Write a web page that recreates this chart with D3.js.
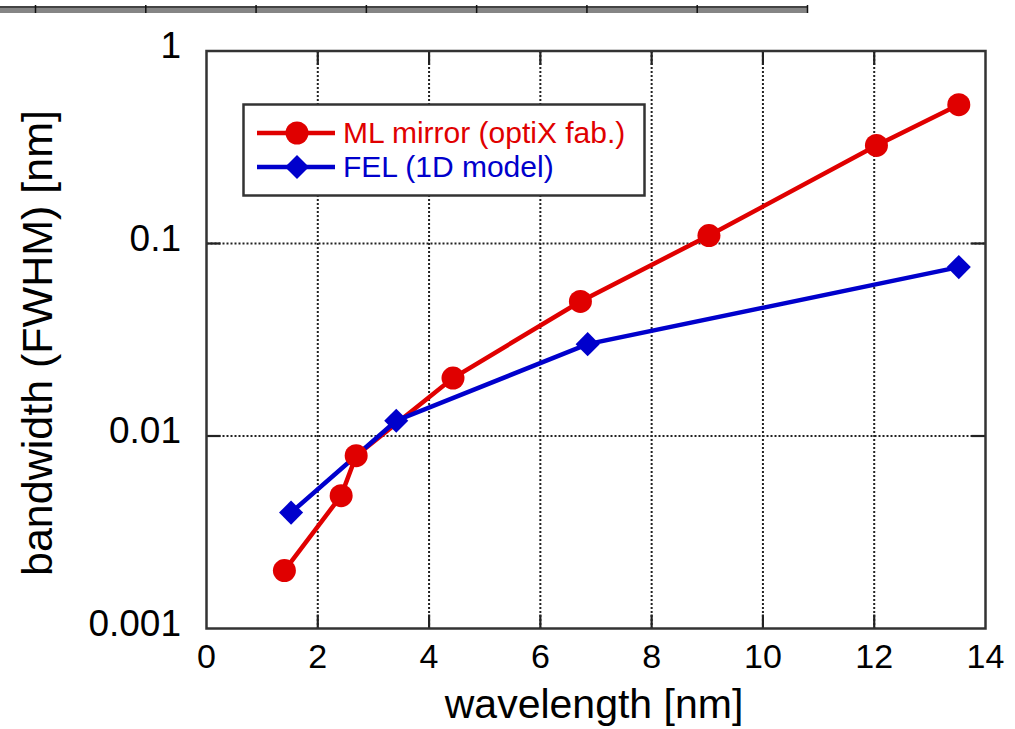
<!DOCTYPE html>
<html>
<head>
<meta charset="utf-8">
<script src="https://cdnjs.cloudflare.com/ajax/libs/d3/7.8.5/d3.min.js"></script>
<style>
  body { margin: 0; background: #fff; }
  svg { display: block; font-family: "Liberation Sans", Arial, sans-serif; }
</style>
</head>
<body>
<div id="chart"></div>
<script>
var w = 1015;
var h = 729;

// data
var mirrorX = [1.4, 2.42, 2.69, 4.43, 6.72, 9.03, 12.04, 13.52];
var mirrorY = [0.002, 0.0049, 0.0079, 0.02, 0.05, 0.11, 0.323, 0.526];
var felX = [1.52, 3.41, 6.85, 13.52];
var felY = [0.004, 0.012, 0.030, 0.0754];
var xTicks = [0, 2, 4, 6, 8, 10, 12, 14];
var yTicks = [0.001, 0.01, 0.1, 1];
var yTickLabels = ["0.001", "0.01", "0.1", "1"];
var rulerTicks = [0, 1, 2, 3, 4, 5, 6, 7];

// plot box (note: "top" is a reserved window prop, so use other names)
var pL = 206.5, pR = 985.5, pT = 51, pB = 628.5;

var x = d3.scaleLinear().domain([0, 14]).range([pL, pR]);
var y = d3.scaleLog().domain([0.001, 1]).range([pB, pT]);

var svg = d3.select("#chart").append("svg")
    .attr("width", w)
    .attr("height", h);

// ruler strip at the top edge of the page
var ruler = d3.scaleLinear().domain([0, 7]).range([35.5, 807.5]);
svg.append("rect").attr("x", 0).attr("y", 6).attr("width", 808).attr("height", 7).attr("fill", "#858585");
svg.append("line").attr("x1", 0).attr("x2", 808).attr("y1", 7).attr("y2", 7).attr("stroke", "#444").attr("stroke-width", 2);
svg.selectAll(".rtick").data(rulerTicks).enter().append("line")
    .attr("x1", d => ruler(d)).attr("x2", d => ruler(d))
    .attr("y1", 5).attr("y2", 13)
    .attr("stroke", "#111").attr("stroke-width", 1.5);

// dotted grid
var grid = svg.append("g").attr("stroke", "#222").attr("stroke-width", 2).attr("stroke-dasharray", "2,2");
grid.selectAll(".gx").data(xTicks.slice(1, -1)).enter().append("line")
    .attr("x1", d => x(d)).attr("x2", d => x(d))
    .attr("y1", pT).attr("y2", pB);
grid.selectAll(".gy").data(yTicks.slice(1, -1)).enter().append("line")
    .attr("x1", pL).attr("x2", pR)
    .attr("y1", d => y(d)).attr("y2", d => y(d));

// inward ticks on all four sides
var tlen = 14;
var ticks = svg.append("g").attr("stroke", "#222").attr("stroke-width", 2.2);
xTicks.slice(1, -1).forEach(function (d) {
    ticks.append("line").attr("x1", x(d)).attr("x2", x(d)).attr("y1", pB).attr("y2", pB - tlen);
    ticks.append("line").attr("x1", x(d)).attr("x2", x(d)).attr("y1", pT).attr("y2", pT + tlen);
});
yTicks.slice(1, -1).forEach(function (d) {
    ticks.append("line").attr("x1", pL).attr("x2", pL + tlen).attr("y1", y(d)).attr("y2", y(d));
    ticks.append("line").attr("x1", pR).attr("x2", pR - tlen).attr("y1", y(d)).attr("y2", y(d));
});

// frame
svg.append("rect")
    .attr("x", pL).attr("y", pT)
    .attr("width", pR - pL).attr("height", pB - pT)
    .attr("fill", "none").attr("stroke", "#333").attr("stroke-width", 2.5);

// tick labels
svg.selectAll(".xl").data(xTicks).enter().append("text")
    .attr("x", d => x(d)).attr("y", 668)
    .attr("text-anchor", "middle")
    .attr("font-size", 34)
    .text(d => d);

svg.selectAll(".yl").data(yTicks).enter().append("text")
    .attr("x", 181).attr("y", d => y(d) + 7)
    .attr("text-anchor", "end")
    .attr("font-size", 37)
    .text((d, i) => yTickLabels[i]);

// axis titles
svg.append("text")
    .attr("x", 594).attr("y", 718)
    .attr("text-anchor", "middle")
    .attr("font-size", 41)
    .text("wavelength [nm]");

svg.append("text")
    .attr("transform", "translate(52,343) rotate(-90)")
    .attr("text-anchor", "middle")
    .attr("font-size", 43)
    .text("bandwidth (FWHM) [nm]");

// series
var red = "#e00000", blue = "#0000cc";
var line = d3.line().x(d => x(d[0])).y(d => y(d[1]));
var mirror = mirrorX.map((d, i) => [d, mirrorY[i]]);
var fel = felX.map((d, i) => [d, felY[i]]);

svg.append("path").datum(mirror).attr("d", line)
    .attr("fill", "none").attr("stroke", red).attr("stroke-width", 4.5);
svg.append("path").datum(fel).attr("d", line)
    .attr("fill", "none").attr("stroke", blue).attr("stroke-width", 4.5);

var diamond = d3.symbol().type(d3.symbolSquare).size(290);

svg.selectAll(".mk").data(mirror).enter().append("circle")
    .attr("cx", d => x(d[0])).attr("cy", d => y(d[1]))
    .attr("r", 11.5).attr("fill", red);
svg.selectAll(".fk").data(fel).enter().append("path")
    .attr("d", diamond)
    .attr("transform", d => "translate(" + x(d[0]) + "," + y(d[1]) + ") rotate(45)")
    .attr("fill", blue);

// legend
var lg = svg.append("g");
lg.append("rect").attr("x", 243.5).attr("y", 104.5).attr("width", 401).attr("height", 91)
    .attr("fill", "#fff").attr("stroke", "#333").attr("stroke-width", 2.5);
var rows = [
    { name: "ML mirror (optiX fab.)", color: red, cy: 133, kind: "circle" },
    { name: "FEL (1D model)", color: blue, cy: 167, kind: "diamond" }
];
rows.forEach(function (r) {
    lg.append("line").attr("x1", 257).attr("x2", 335).attr("y1", r.cy).attr("y2", r.cy)
        .attr("stroke", r.color).attr("stroke-width", 4.5);
    if (r.kind === "circle") {
        lg.append("circle").attr("cx", 297).attr("cy", r.cy).attr("r", 11.5).attr("fill", r.color);
    } else {
        lg.append("path").attr("d", diamond)
            .attr("transform", "translate(297," + r.cy + ") rotate(45)")
            .attr("fill", r.color);
    }
    lg.append("text").attr("x", 343).attr("y", r.cy + 10)
        .attr("font-size", 30).attr("fill", r.color)
        .text(r.name);
});
</script>
</body>
</html>
